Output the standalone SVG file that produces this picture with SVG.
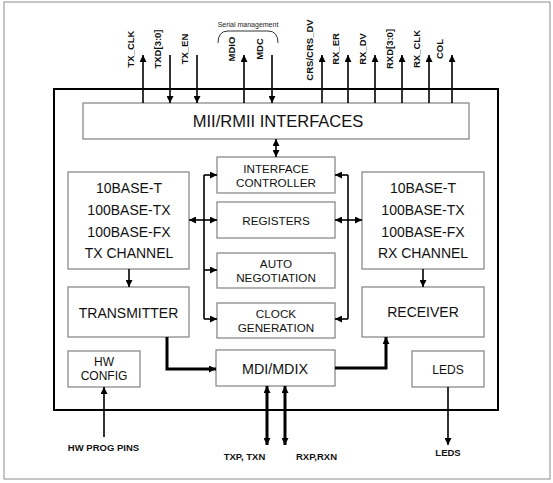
<svg xmlns="http://www.w3.org/2000/svg" width="553" height="483" viewBox="0 0 553 483">
<defs>
<marker id="ah" markerUnits="userSpaceOnUse" markerWidth="8" markerHeight="7" refX="7" refY="3.5" orient="auto-start-reverse"><path d="M0,0 L7,3.5 L0,7 z" fill="#000"/></marker>
<style>
.box{fill:#fff;stroke:#808080;stroke-width:1.2}
.c{fill:none;stroke:#000;stroke-width:1.6}
.t{stroke-width:3}
.lbl{font-family:"Liberation Sans",Arial,sans-serif;fill:#111;text-anchor:middle}
.pin{font-family:"Liberation Sans",Arial,sans-serif;font-weight:bold;font-size:9.5px;fill:#111;text-anchor:middle}
</style>
</defs>
<rect x="0" y="0" width="553" height="483" fill="#fff"/>
<rect x="4" y="2" width="546" height="477" fill="none" stroke="#8c8c8c" stroke-width="1"/>
<g id="chip"><rect x="54" y="89" width="444" height="321" fill="#fff" stroke="#000" stroke-width="2"/></g>

<g id="pins">
<text class="pin" transform="translate(133.5,49) rotate(-90)">TX_CLK</text>
<text class="pin" transform="translate(160.5,49) rotate(-90)">TXD[3:0]</text>
<text class="pin" transform="translate(187.5,49) rotate(-90)">TX_EN</text>
<text class="pin" transform="translate(234.5,49) rotate(-90)">MDIO</text>
<text class="pin" transform="translate(262.5,49) rotate(-90)">MDC</text>
<text class="pin" transform="translate(312.5,50) rotate(-90)">CRS/CRS_DV</text>
<text class="pin" transform="translate(338.5,49) rotate(-90)">RX_ER</text>
<text class="pin" transform="translate(365.5,49) rotate(-90)">RX_DV</text>
<text class="pin" transform="translate(392.5,49) rotate(-90)">RXD[3:0]</text>
<text class="pin" transform="translate(419.5,49) rotate(-90)">RX_CLK</text>
<text class="pin" transform="translate(442.5,49) rotate(-90)">COL</text>
<text x="248" y="27" font-family="Liberation Sans, Arial, sans-serif" font-size="7" fill="#222" text-anchor="middle">Serial management</text>
<path d="M218,43 Q218,31 228,31 L268,31 Q278,31 278,43" fill="none" stroke="#333" stroke-width="1"/>
</g>

<g id="mii"><rect class="box" x="83" y="103" width="386" height="36"/><text class="lbl" x="278" y="127" font-size="16.5">MII/RMII INTERFACES</text></g>
<g id="ifc"><rect class="box" x="217" y="157" width="118" height="36"/><text class="lbl" x="276" y="173" font-size="11.7">INTERFACE</text><text class="lbl" x="276" y="187" font-size="11.7">CONTROLLER</text></g>
<g id="reg"><rect class="box" x="217" y="202" width="118" height="36"/><text class="lbl" x="276" y="225" font-size="11.7">REGISTERS</text></g>
<g id="auto"><rect class="box" x="217" y="253" width="118" height="35"/><text class="lbl" x="276" y="267.5" font-size="11.7">AUTO</text><text class="lbl" x="276" y="282" font-size="11.7">NEGOTIATION</text></g>
<g id="clk"><rect class="box" x="217" y="303" width="118" height="35"/><text class="lbl" x="276" y="318" font-size="11.7">CLOCK</text><text class="lbl" x="276" y="332" font-size="11.7">GENERATION</text></g>
<g id="txch"><rect class="box" x="68" y="172" width="121" height="97"/>
<text class="lbl" x="129" y="193" font-size="14">10BASE-T</text><text class="lbl" x="129" y="215" font-size="14">100BASE-TX</text><text class="lbl" x="129" y="237" font-size="14">100BASE-FX</text><text class="lbl" x="129" y="258" font-size="14">TX CHANNEL</text></g>
<g id="tx"><rect class="box" x="68" y="287" width="121" height="50"/><text class="lbl" x="128.5" y="317.5" font-size="14">TRANSMITTER</text></g>
<g id="rxch"><rect class="box" x="362" y="172" width="122" height="97"/>
<text class="lbl" x="423" y="193" font-size="14">10BASE-T</text><text class="lbl" x="423" y="215" font-size="14">100BASE-TX</text><text class="lbl" x="423" y="237" font-size="14">100BASE-FX</text><text class="lbl" x="423" y="258" font-size="14">RX CHANNEL</text></g>
<g id="rx"><rect class="box" x="362" y="287" width="122" height="50"/><text class="lbl" x="423" y="317" font-size="14">RECEIVER</text></g>
<g id="hw"><rect class="box" x="68" y="351" width="72" height="36"/><text class="lbl" x="104" y="366" font-size="12">HW</text><text class="lbl" x="104" y="380" font-size="12">CONFIG</text></g>
<g id="mdi"><rect class="box" x="216" y="350" width="119" height="36"/><text class="lbl" x="275" y="373.5" font-size="14.3">MDI/MDIX</text></g>
<g id="leds"><rect class="box" x="412" y="351" width="72" height="36"/><text class="lbl" x="448" y="374" font-size="12">LEDS</text></g>

<g id="ext">
<text class="pin" x="103.5" y="451">HW PROG PINS</text>
<text class="pin" x="244.5" y="460">TXP, TXN</text>
<text class="pin" x="316.5" y="460">RXP,RXN</text>
<text class="pin" x="448" y="456">LEDS</text>
</g>

<g id="connectors">
<line class="c" x1="143" y1="103" x2="143" y2="55" marker-end="url(#ah)"/>
<line class="c" x1="170" y1="55" x2="170" y2="103" marker-end="url(#ah)"/>
<line class="c" x1="197" y1="55" x2="197" y2="103" marker-end="url(#ah)"/>
<line class="c" x1="244" y1="103" x2="244" y2="55" marker-end="url(#ah)"/>
<line class="c" x1="272" y1="55" x2="272" y2="103" marker-end="url(#ah)"/>
<line class="c" x1="322" y1="103" x2="322" y2="55" marker-end="url(#ah)"/>
<line class="c" x1="348" y1="103" x2="348" y2="55" marker-end="url(#ah)"/>
<line class="c" x1="375" y1="103" x2="375" y2="55" marker-end="url(#ah)"/>
<line class="c" x1="402" y1="103" x2="402" y2="55" marker-end="url(#ah)"/>
<line class="c" x1="429" y1="103" x2="429" y2="55" marker-end="url(#ah)"/>
<line class="c" x1="452" y1="103" x2="452" y2="55" marker-end="url(#ah)"/>
<line class="c" x1="276" y1="139" x2="276" y2="157" marker-start="url(#ah)" marker-end="url(#ah)"/>
<line class="c" x1="204" y1="175" x2="204" y2="319"/>
<line class="c" x1="204" y1="175" x2="217" y2="175" marker-end="url(#ah)"/>
<line class="c" x1="189" y1="220" x2="217" y2="220" marker-start="url(#ah)" marker-end="url(#ah)"/>
<line class="c" x1="204" y1="270" x2="217" y2="270" marker-end="url(#ah)"/>
<line class="c" x1="204" y1="319" x2="217" y2="319" marker-end="url(#ah)"/>
<line class="c" x1="348" y1="175" x2="348" y2="319"/>
<line class="c" x1="348" y1="175" x2="335" y2="175" marker-end="url(#ah)"/>
<line class="c" x1="335" y1="220" x2="362" y2="220" marker-start="url(#ah)" marker-end="url(#ah)"/>
<line class="c" x1="348" y1="319" x2="335" y2="319" marker-end="url(#ah)"/>
<line class="c" x1="129" y1="269" x2="129" y2="287" marker-end="url(#ah)"/>
<line class="c" x1="423" y1="269" x2="423" y2="287" marker-end="url(#ah)"/>
<path class="c t" d="M167,337 V369 H216" marker-end="url(#ah)"/>
<path class="c t" d="M335,368 H386 V337" marker-end="url(#ah)"/>
<line class="c" x1="104" y1="437" x2="104" y2="387" marker-end="url(#ah)"/>
<line class="c t" x1="267" y1="386" x2="267" y2="445" marker-start="url(#ah)" marker-end="url(#ah)"/>
<line class="c t" x1="285" y1="386" x2="285" y2="445" marker-start="url(#ah)" marker-end="url(#ah)"/>
<line class="c" x1="448" y1="387" x2="448" y2="445" marker-end="url(#ah)"/>
</g>
</svg>
